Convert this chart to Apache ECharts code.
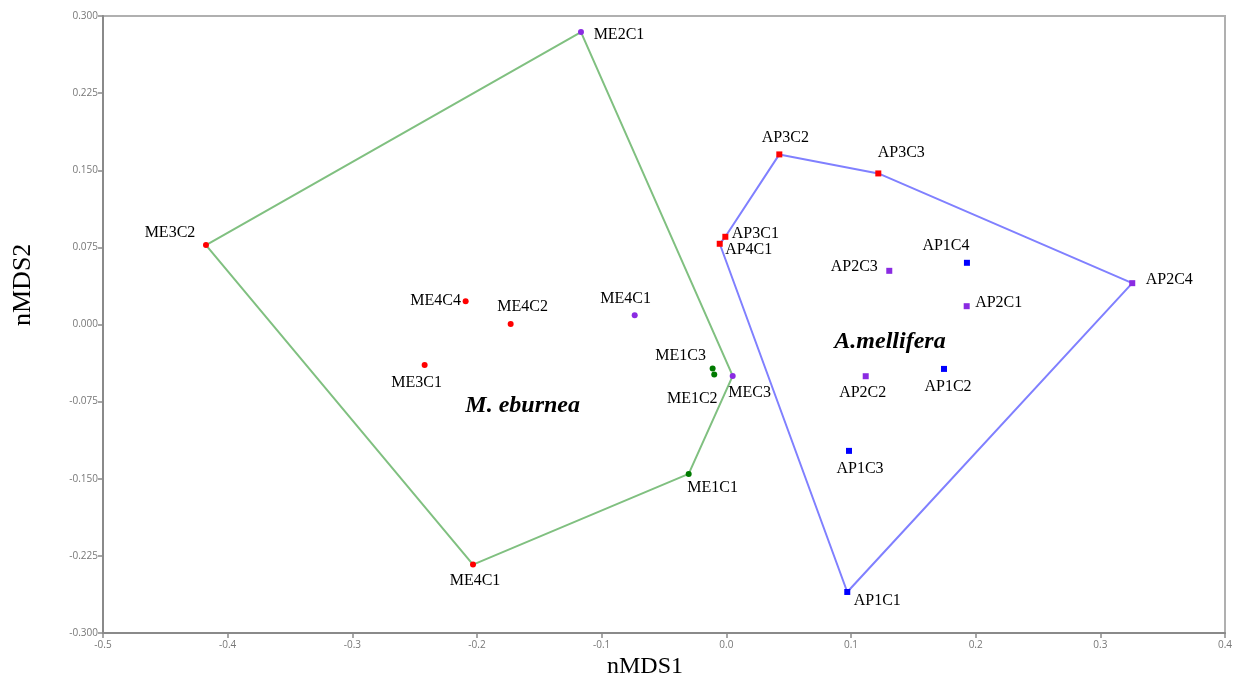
<!DOCTYPE html>
<html><head><meta charset="utf-8">
<script src="https://cdn.jsdelivr.net/npm/echarts@6/dist/echarts.min.js"></script>
<style>html,body{margin:0;padding:0;background:#fff}#c{width:1237px;height:684px}</style>
</head><body><div id="c"></div>
<script>
// ---- data ----
const sampleNames = ['ME2C1','ME3C2','ME4C4','ME4C2','ME4C1','ME3C1','ME1C3','ME1C2','MEC3','ME1C1','ME4C1',
                     'AP3C2','AP3C1','AP4C1','AP3C3','AP1C4','AP2C3','AP2C4','AP2C1','AP2C2','AP1C2','AP1C3','AP1C1'];
const nmds1 = [-0.1166,-0.4174,-0.2091,-0.1730,-0.0735,-0.2420,-0.0110,-0.0097,0.0051,-0.0302,-0.2032,
               0.0425,-0.0008,-0.0053,0.1219,0.1930,0.1307,0.3256,0.1928,0.1118,0.1746,0.0984,0.0970];
const nmds2 = [0.2844,0.0772,0.0227,0.0006,0.0091,-0.0393,-0.0428,-0.0486,-0.0500,-0.1453,-0.2335,
               0.1654,0.0853,0.0785,0.1469,0.0600,0.0522,0.0402,0.0178,-0.0503,-0.0432,-0.1229,-0.2601];
const sampleGroup = ['p','r','r','r','p','r','g','g','p','g','r',
                     'r','r','r','r','b','p','p','p','p','b','b','b'];
const hullEburnea = [0,8,9,10,1,0];
const hullMellifera = [11,14,17,22,13,12,11];
const speciesNames = ['M. eburnea','A.mellifera'];
const speciesX = [-0.1634, 0.1313];
const speciesY = [-0.0790, -0.0172];
const xTickMin = -0.5, xTickMax = 0.4, xTickStep = 0.1;
const yTickMin = -0.3, yTickMax = 0.3, yTickStep = 0.075;

// ---- styles ----
const groupColors = {r:'#ff0000', p:'#8a2be2', g:'#007a00', b:'#0000ff'};
const labelOffsets = [[38,3],[-36,-12],[-30,0],[12,-17],[-9,-16],[-8,18],[-32,-13],[-22,24],[17,17],[24,14],[2,16],
                      [6,-17],[30,-3],[29,6],[23,-21],[-21,-17],[-35,-4],[37,-3],[32,-3],[-3,17],[4,18],[11,18],[30,9]];

const pointData = sampleNames.map((n,i)=>({
  name:n,
  value:[nmds1[i], nmds2[i]],
  symbol: n.startsWith('AP') ? 'rect' : 'circle',
  symbolSize: 6,
  itemStyle:{color: groupColors[sampleGroup[i]], opacity:1},
  label:{offset: labelOffsets[i]}
}));

const chart = echarts.init(document.getElementById('c'));
const axisCommon = {
  axisLine:{show:true, onZero:false, lineStyle:{color:'#8a8a8a', width:2}},
  axisTick:{show:true, inside:false, length:5, lineStyle:{color:'#8a8a8a', width:1.5}},
  splitLine:{show:false},
  axisLabel:{color:'#777', fontFamily:'Open Sans', fontSize:10, margin:5}
};
const textCommon = {color:'#000', opacity:1, textBorderWidth:0, textBorderColor:'transparent', textShadowBlur:0};
chart.setOption({
  animation:false,
  backgroundColor:'#fff',
  grid:{left:103, top:16, right:12, bottom:51, show:true, borderColor:'#b0b0b0', borderWidth:2},
  xAxis:Object.assign({type:'value', min:xTickMin, max:xTickMax, interval:xTickStep}, axisCommon,
    {axisLabel:Object.assign({}, axisCommon.axisLabel, {formatter:v=>v.toFixed(1), margin:7})}),
  yAxis:Object.assign({type:'value', min:yTickMin, max:yTickMax, interval:yTickStep}, axisCommon,
    {axisLabel:Object.assign({}, axisCommon.axisLabel, {formatter:v=>v.toFixed(3)})}),
  graphic:[
    {type:'text', left:607, top:655, style:{text:'nMDS1', font:'24px "Liberation Serif"', fill:'#000'}},
    {type:'text', x:10, y:326, rotation:Math.PI/2, style:{text:'nMDS2', font:'26px "Liberation Serif"', fill:'#000'}}
  ],
  series:[
    {type:'line', data:hullEburnea.map(i=>[nmds1[i], nmds2[i]]), symbol:'none', silent:true,
     lineStyle:{color:'#80c080', width:2}, z:1},
    {type:'line', data:hullMellifera.map(i=>[nmds1[i], nmds2[i]]), symbol:'none', silent:true,
     lineStyle:{color:'#8080ff', width:2}, z:1},
    {type:'scatter', data:pointData, z:3, itemStyle:{opacity:1},
     label:Object.assign({show:true, position:'inside', formatter:'{b}', fontFamily:'Liberation Serif', fontSize:16}, textCommon)},
    {type:'scatter', symbolSize:0, z:3, itemStyle:{opacity:1},
     data:speciesNames.map((n,i)=>({name:n, value:[speciesX[i], speciesY[i]]})),
     label:Object.assign({show:true, position:'inside', formatter:'{b}', fontFamily:'Liberation Serif',
            fontSize:24, fontStyle:'italic', fontWeight:'bold'}, textCommon)}
  ]
});
</script></body></html>
